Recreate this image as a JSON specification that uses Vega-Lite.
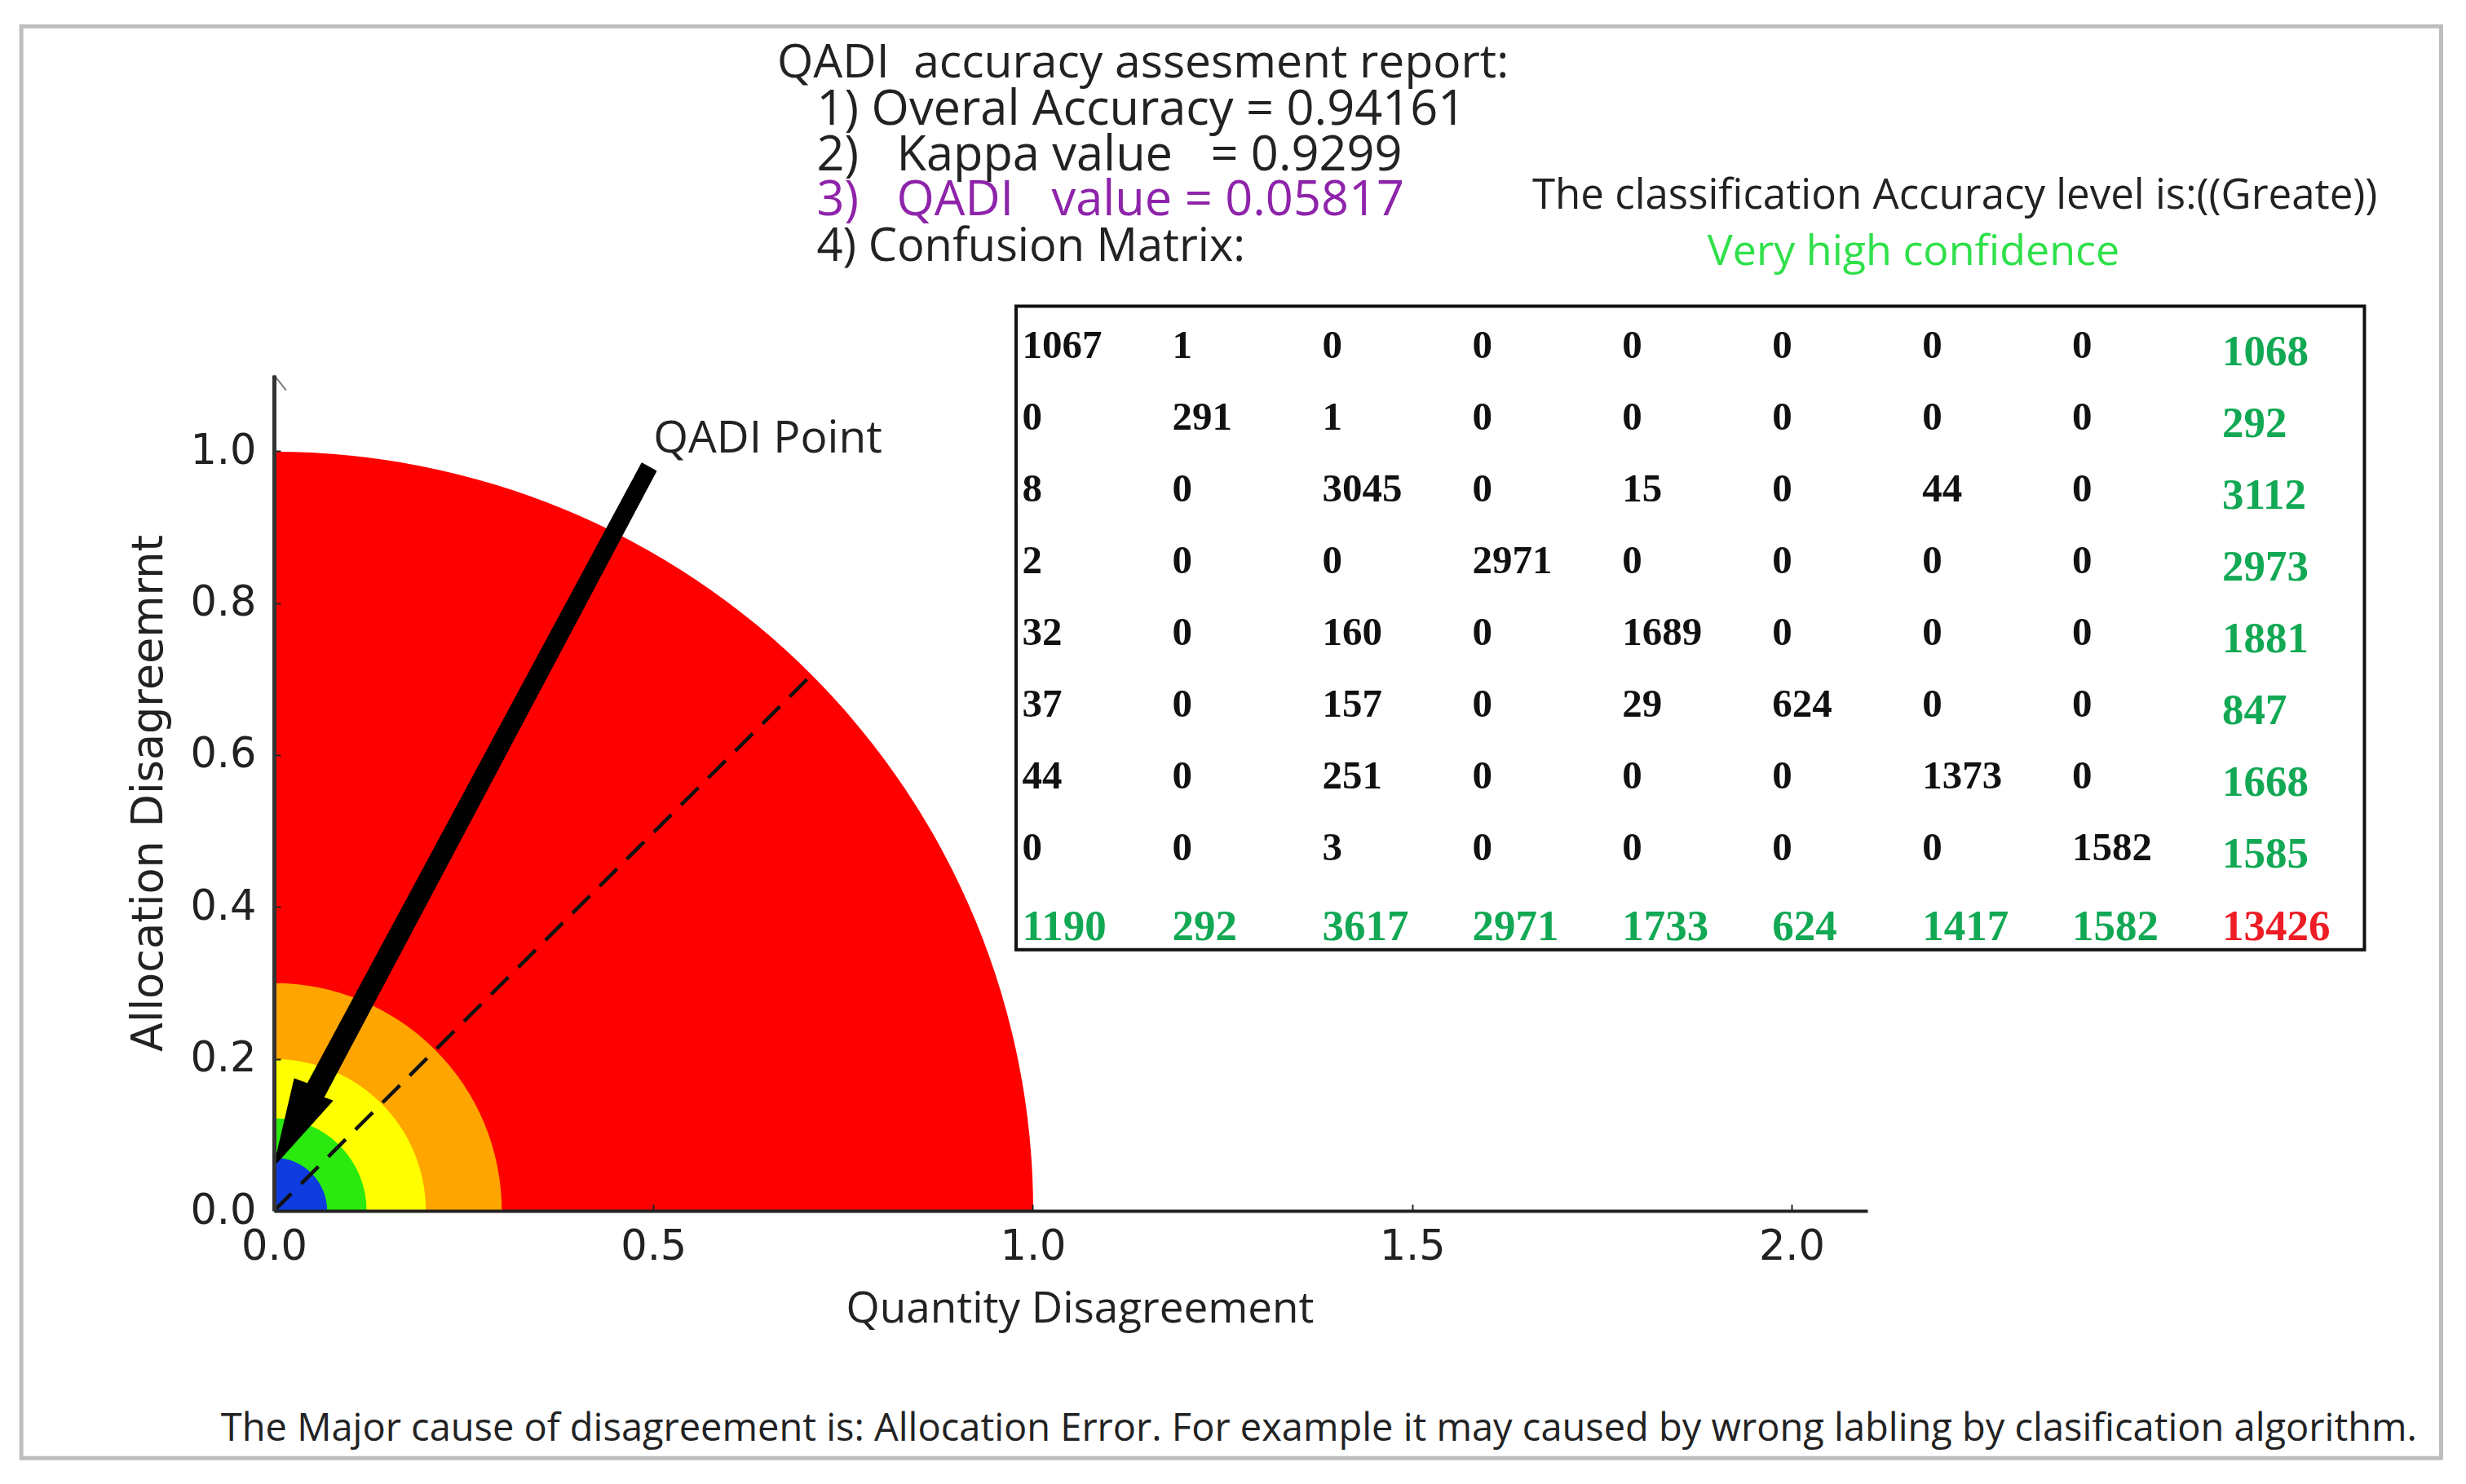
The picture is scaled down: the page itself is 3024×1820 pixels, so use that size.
{
  "$schema": "https://vega.github.io/schema/vega-lite/v6.json",
  "width": 1954,
  "height": 1025,
  "autosize": {"type": "none"},
  "padding": {"left": 336, "top": 460, "right": 734, "bottom": 335},
  "background": "white",
  "config": {"view": {"stroke": null}, "text": {"font": "Open Sans", "color": "#222222"}},
  "resolve": {"scale": {"x": "independent", "y": "independent"}},
  "layer": [
    {
      "layer": [
        {
          "data": {"values": [
            {"zone": "red", "radius": 1.0},
            {"zone": "orange", "radius": 0.3},
            {"zone": "yellow", "radius": 0.2},
            {"zone": "green", "radius": 0.122},
            {"zone": "blue", "radius": 0.07}
          ]},
          "mark": {"type": "arc", "theta": 0, "theta2": 1.5708},
          "encoding": {
            "x": {
              "datum": 0, "type": "quantitative",
              "scale": {"domain": [0, 2.1], "nice": false, "zero": false},
              "axis": {
                "title": "Quantity Disagreement", "titleFont": "Open Sans", "titleFontSize": 53, "titleFontWeight": "normal", "titleColor": "#222222",
                "titleX": 988, "titleBaseline": "middle", "titlePadding": 51,
                "values": [0, 0.5, 1, 1.5, 2], "format": ".1f", "grid": false, "zindex": 1,
                "labelFont": "DejaVu Sans", "labelFontSize": 51, "labelColor": "#222222", "labelPadding": 27, "labelFlush": false, "labelOverlap": false,
                "domainColor": "#222222", "domainWidth": 4, "tickColor": "#222222", "tickWidth": 2, "tickSize": -8
              }
            },
            "y": {
              "datum": 0, "type": "quantitative",
              "scale": {"domain": [0, 1.1], "nice": false, "zero": false},
              "axis": {
                "title": "Allocation Disagreemrnt", "titleFont": "DejaVu Sans", "titleFontSize": 52.5, "titleFontWeight": "normal", "titleColor": "#222222",
                "titleBaseline": "middle", "titlePadding": 50,
                "values": [0, 0.2, 0.4, 0.6, 0.8, 1], "format": ".1f", "grid": false, "zindex": 1,
                "labelFont": "DejaVu Sans", "labelFontSize": 51, "labelColor": "#222222", "labelPadding": 30, "labelFlush": false, "labelOverlap": false,
                "domainColor": "#333333", "domainWidth": 5, "tickColor": "#222222", "tickWidth": 2, "tickSize": -8
              }
            },
            "radius": {"field": "radius", "type": "quantitative", "stack": null, "scale": {"type": "linear", "domain": [0, 1], "range": [0, 931]}, "legend": null},
            "color": {
              "field": "zone", "type": "nominal", "legend": null, "sort": null,
              "scale": {"domain": ["red", "orange", "yellow", "green", "blue"], "range": ["#ff0000", "#ffa500", "#ffff00", "#2ae90f", "#0e3ce0"]}
            }
          }
        },
        {
          "data": {"values": [{"name": "frame"}]},
          "mark": {"type": "rect", "filled": false, "stroke": "#bdbdbd", "strokeWidth": 5},
          "encoding": {
            "x": {"datum": -0.333, "type": "quantitative"},
            "x2": {"datum": 2.856},
            "y": {"datum": 1.559, "type": "quantitative"},
            "y2": {"datum": -0.3255}
          }
        },
        {
          "data": {"values": [
            {"quantity": 0, "allocation": 1.1},
            {"quantity": 0.016, "allocation": 1.08}
          ]},
          "mark": {"type": "line", "color": "#777777", "strokeWidth": 2},
          "encoding": {
            "x": {"field": "quantity", "type": "quantitative"},
            "y": {"field": "allocation", "type": "quantitative"}
          }
        },
        {
          "data": {"values": [
            {"quantity": 0, "allocation": 0},
            {"quantity": 0.703, "allocation": 0.7}
          ]},
          "mark": {"type": "line", "color": "#111111", "strokeWidth": 4.5, "strokeDash": [30, 17]},
          "encoding": {
            "x": {"field": "quantity", "type": "quantitative"},
            "y": {"field": "allocation", "type": "quantitative"}
          }
        },
        {
          "data": {"values": [
            {"step": 0, "quantity": 0, "allocation": 0.059},
            {"step": 1, "quantity": 0.0774, "allocation": 0.1449},
            {"step": 2, "quantity": 0.0656, "allocation": 0.1492},
            {"step": 3, "quantity": 0.504, "allocation": 0.9737},
            {"step": 4, "quantity": 0.4847, "allocation": 0.9844},
            {"step": 5, "quantity": 0.0441, "allocation": 0.1675},
            {"step": 6, "quantity": 0.0269, "allocation": 0.1739},
            {"step": 7, "quantity": 0, "allocation": 0.059}
          ]},
          "mark": {"type": "line", "color": "black", "fill": "black", "strokeWidth": 1},
          "encoding": {
            "x": {"field": "quantity", "type": "quantitative"},
            "y": {"field": "allocation", "type": "quantitative"},
            "order": {"field": "step", "type": "quantitative"}
          }
        },
        {
          "data": {"values": [{"label": "QADI Point"}]},
          "mark": {"type": "text", "align": "left", "baseline": "middle", "dy": 4, "fontSize": 55},
          "encoding": {"x": {"datum": 0.5, "type": "quantitative"}, "y": {"datum": 1.0203, "type": "quantitative"}, "text": {"field": "label"}}
        },
        {
          "data": {"values": [{"label": "QADI\u00a0 accuracy assesment report:"}]},
          "mark": {"type": "text", "align": "left", "baseline": "middle", "dy": 4, "fontSize": 57},
          "encoding": {"x": {"datum": 0.663, "type": "quantitative"}, "y": {"datum": 1.514, "type": "quantitative"}, "text": {"field": "label"}}
        },
        {
          "data": {"values": [{"label": "1) Overal Accuracy = 0.94161"}]},
          "mark": {"type": "text", "align": "left", "baseline": "middle", "dy": 4, "fontSize": 59.5},
          "encoding": {"x": {"datum": 0.7153, "type": "quantitative"}, "y": {"datum": 1.4534, "type": "quantitative"}, "text": {"field": "label"}}
        },
        {
          "data": {"values": [{"label": "2)\u00a0\u00a0 Kappa value\u00a0\u00a0 = 0.9299"}]},
          "mark": {"type": "text", "align": "left", "baseline": "middle", "dy": 4, "fontSize": 59.5},
          "encoding": {"x": {"datum": 0.7153, "type": "quantitative"}, "y": {"datum": 1.3934, "type": "quantitative"}, "text": {"field": "label"}}
        },
        {
          "data": {"values": [{"label": "3)\u00a0\u00a0 QADI\u00a0\u00a0 value = 0.05817"}]},
          "mark": {"type": "text", "align": "left", "baseline": "middle", "dy": 4, "fontSize": 59.5, "color": "#8e24aa"},
          "encoding": {"x": {"datum": 0.7153, "type": "quantitative"}, "y": {"datum": 1.3335, "type": "quantitative"}, "text": {"field": "label"}}
        },
        {
          "data": {"values": [{"label": "4) Confusion Matrix:"}]},
          "mark": {"type": "text", "align": "left", "baseline": "middle", "dy": 4, "fontSize": 56},
          "encoding": {"x": {"datum": 0.7153, "type": "quantitative"}, "y": {"datum": 1.2733, "type": "quantitative"}, "text": {"field": "label"}}
        },
        {
          "data": {"values": [{"label": "The classification Accuracy level is:((Greate))"}]},
          "mark": {"type": "text", "align": "center", "baseline": "middle", "dy": 4, "fontSize": 51},
          "encoding": {"x": {"datum": 2.2152, "type": "quantitative"}, "y": {"datum": 1.3395, "type": "quantitative"}, "text": {"field": "label"}}
        },
        {
          "data": {"values": [{"label": "Very high confidence"}]},
          "mark": {"type": "text", "align": "center", "baseline": "middle", "dy": 3, "fontSize": 52, "color": "#2fe04a"},
          "encoding": {"x": {"datum": 2.1607, "type": "quantitative"}, "y": {"datum": 1.2649, "type": "quantitative"}, "text": {"field": "label"}}
        },
        {
          "data": {"values": [{"label": "The Major cause of disagreement is: Allocation Error. For example it may caused by wrong labling by clasification algorithm."}]},
          "mark": {"type": "text", "align": "left", "baseline": "middle", "dy": 4, "fontSize": 47},
          "encoding": {"x": {"datum": -0.07, "type": "quantitative"}, "y": {"datum": -0.2837, "type": "quantitative"}, "text": {"field": "label"}}
        },
        {
          "data": {"values": [{"name": "matrix box"}]},
          "mark": {"type": "rect", "filled": false, "stroke": "#111111", "strokeWidth": 4},
          "encoding": {
            "x": {"datum": 0.978, "type": "quantitative"},
            "x2": {"datum": 2.755},
            "y": {"datum": 1.1906, "type": "quantitative"},
            "y2": {"datum": 0.3437}
          }
        }
      ]
    },
    {
      "data": {"values": [
        {"row": 0, "col": 0, "count": 1067, "kind": "cell"}, {"row": 0, "col": 1, "count": 1, "kind": "cell"}, {"row": 0, "col": 2, "count": 0, "kind": "cell"}, {"row": 0, "col": 3, "count": 0, "kind": "cell"}, {"row": 0, "col": 4, "count": 0, "kind": "cell"}, {"row": 0, "col": 5, "count": 0, "kind": "cell"}, {"row": 0, "col": 6, "count": 0, "kind": "cell"}, {"row": 0, "col": 7, "count": 0, "kind": "cell"}, {"row": 0, "col": 8, "count": 1068, "kind": "rowTotal"},
        {"row": 1, "col": 0, "count": 0, "kind": "cell"}, {"row": 1, "col": 1, "count": 291, "kind": "cell"}, {"row": 1, "col": 2, "count": 1, "kind": "cell"}, {"row": 1, "col": 3, "count": 0, "kind": "cell"}, {"row": 1, "col": 4, "count": 0, "kind": "cell"}, {"row": 1, "col": 5, "count": 0, "kind": "cell"}, {"row": 1, "col": 6, "count": 0, "kind": "cell"}, {"row": 1, "col": 7, "count": 0, "kind": "cell"}, {"row": 1, "col": 8, "count": 292, "kind": "rowTotal"},
        {"row": 2, "col": 0, "count": 8, "kind": "cell"}, {"row": 2, "col": 1, "count": 0, "kind": "cell"}, {"row": 2, "col": 2, "count": 3045, "kind": "cell"}, {"row": 2, "col": 3, "count": 0, "kind": "cell"}, {"row": 2, "col": 4, "count": 15, "kind": "cell"}, {"row": 2, "col": 5, "count": 0, "kind": "cell"}, {"row": 2, "col": 6, "count": 44, "kind": "cell"}, {"row": 2, "col": 7, "count": 0, "kind": "cell"}, {"row": 2, "col": 8, "count": 3112, "kind": "rowTotal"},
        {"row": 3, "col": 0, "count": 2, "kind": "cell"}, {"row": 3, "col": 1, "count": 0, "kind": "cell"}, {"row": 3, "col": 2, "count": 0, "kind": "cell"}, {"row": 3, "col": 3, "count": 2971, "kind": "cell"}, {"row": 3, "col": 4, "count": 0, "kind": "cell"}, {"row": 3, "col": 5, "count": 0, "kind": "cell"}, {"row": 3, "col": 6, "count": 0, "kind": "cell"}, {"row": 3, "col": 7, "count": 0, "kind": "cell"}, {"row": 3, "col": 8, "count": 2973, "kind": "rowTotal"},
        {"row": 4, "col": 0, "count": 32, "kind": "cell"}, {"row": 4, "col": 1, "count": 0, "kind": "cell"}, {"row": 4, "col": 2, "count": 160, "kind": "cell"}, {"row": 4, "col": 3, "count": 0, "kind": "cell"}, {"row": 4, "col": 4, "count": 1689, "kind": "cell"}, {"row": 4, "col": 5, "count": 0, "kind": "cell"}, {"row": 4, "col": 6, "count": 0, "kind": "cell"}, {"row": 4, "col": 7, "count": 0, "kind": "cell"}, {"row": 4, "col": 8, "count": 1881, "kind": "rowTotal"},
        {"row": 5, "col": 0, "count": 37, "kind": "cell"}, {"row": 5, "col": 1, "count": 0, "kind": "cell"}, {"row": 5, "col": 2, "count": 157, "kind": "cell"}, {"row": 5, "col": 3, "count": 0, "kind": "cell"}, {"row": 5, "col": 4, "count": 29, "kind": "cell"}, {"row": 5, "col": 5, "count": 624, "kind": "cell"}, {"row": 5, "col": 6, "count": 0, "kind": "cell"}, {"row": 5, "col": 7, "count": 0, "kind": "cell"}, {"row": 5, "col": 8, "count": 847, "kind": "rowTotal"},
        {"row": 6, "col": 0, "count": 44, "kind": "cell"}, {"row": 6, "col": 1, "count": 0, "kind": "cell"}, {"row": 6, "col": 2, "count": 251, "kind": "cell"}, {"row": 6, "col": 3, "count": 0, "kind": "cell"}, {"row": 6, "col": 4, "count": 0, "kind": "cell"}, {"row": 6, "col": 5, "count": 0, "kind": "cell"}, {"row": 6, "col": 6, "count": 1373, "kind": "cell"}, {"row": 6, "col": 7, "count": 0, "kind": "cell"}, {"row": 6, "col": 8, "count": 1668, "kind": "rowTotal"},
        {"row": 7, "col": 0, "count": 0, "kind": "cell"}, {"row": 7, "col": 1, "count": 0, "kind": "cell"}, {"row": 7, "col": 2, "count": 3, "kind": "cell"}, {"row": 7, "col": 3, "count": 0, "kind": "cell"}, {"row": 7, "col": 4, "count": 0, "kind": "cell"}, {"row": 7, "col": 5, "count": 0, "kind": "cell"}, {"row": 7, "col": 6, "count": 0, "kind": "cell"}, {"row": 7, "col": 7, "count": 1582, "kind": "cell"}, {"row": 7, "col": 8, "count": 1585, "kind": "rowTotal"},
        {"row": 8, "col": 0, "count": 1190, "kind": "colTotal"}, {"row": 8, "col": 1, "count": 292, "kind": "colTotal"}, {"row": 8, "col": 2, "count": 3617, "kind": "colTotal"}, {"row": 8, "col": 3, "count": 2971, "kind": "colTotal"}, {"row": 8, "col": 4, "count": 1733, "kind": "colTotal"}, {"row": 8, "col": 5, "count": 624, "kind": "colTotal"}, {"row": 8, "col": 6, "count": 1417, "kind": "colTotal"}, {"row": 8, "col": 7, "count": 1582, "kind": "colTotal"}, {"row": 8, "col": 8, "count": 13426, "kind": "grandTotal"}
      ]},
      "encoding": {
        "x": {"field": "col", "type": "quantitative", "axis": null, "scale": {"domain": [0, 8], "range": [917.6, 2389], "nice": false, "zero": false}},
        "y": {"field": "row", "type": "quantitative", "axis": null, "scale": {"domain": [0, 8], "range": [-37.6, 666], "nice": false, "zero": false}},
        "text": {"field": "count", "type": "nominal"}
      },
      "layer": [
        {
          "transform": [{"filter": "datum.kind === 'cell'"}],
          "mark": {"type": "text", "align": "left", "baseline": "middle", "dy": 2, "font": "Liberation Serif", "fontWeight": "bold", "fontSize": 49, "color": "#111111"}
        },
        {
          "transform": [{"filter": "datum.kind === 'rowTotal'"}],
          "mark": {"type": "text", "align": "left", "baseline": "middle", "dy": 10, "font": "Liberation Serif", "fontWeight": "bold", "fontSize": 53, "color": "#12a854"}
        },
        {
          "transform": [{"filter": "datum.kind === 'colTotal'"}],
          "mark": {"type": "text", "align": "left", "baseline": "middle", "dy": 11, "font": "Liberation Serif", "fontWeight": "bold", "fontSize": 53, "color": "#12a854"}
        },
        {
          "transform": [{"filter": "datum.kind === 'grandTotal'"}],
          "mark": {"type": "text", "align": "left", "baseline": "middle", "dy": 11, "font": "Liberation Serif", "fontWeight": "bold", "fontSize": 53, "color": "#ee1c25"}
        }
      ]
    }
  ]
}
